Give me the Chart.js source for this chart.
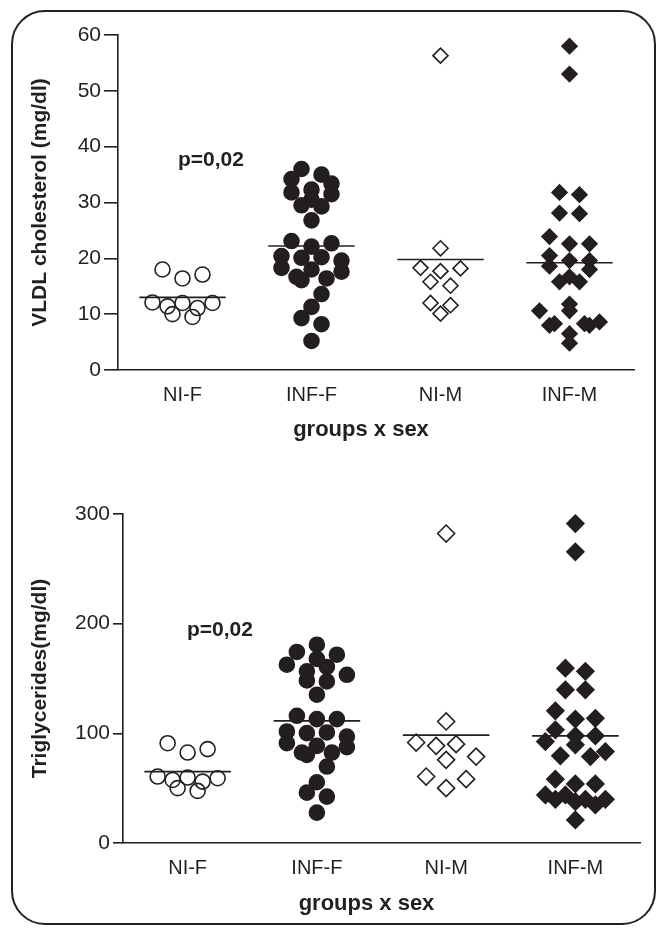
<!DOCTYPE html>
<html>
<head>
<meta charset="utf-8">
<script src="https://cdn.jsdelivr.net/npm/chart.js@4.4.0/dist/chart.umd.min.js"></script>
<style>
  body { margin: 0; background: #fff; }
  #frame { position: absolute; left: 11px; top: 10px; width: 645px; height: 915px;
           border: 2px solid #222; border-radius: 34px; box-sizing: border-box; }
  .box { position: absolute; left: 0; width: 659px; }
  #top { top: 0; height: 445px; }
  #bottom { top: 445px; height: 485px; }
</style>
</head>
<body>
<div id="frame"></div>
<div class="box" id="top"><canvas id="vldlChart"></canvas></div>
<div class="box" id="bottom"><canvas id="tgChart"></canvas></div>
<script>
const GROUPS = ['NI-F', 'INF-F', 'NI-M', 'INF-M'];

// VLDL cholesterol (mg/dl)
const vldlNIF = [17.1, 16.4, 18.0, 12.1, 11.1, 12.0, 9.5, 11.4, 10.0, 12.0];
const vldlINFF = [36.0, 35.0, 34.2, 33.4, 31.8, 32.3, 31.5, 30.5, 29.3, 29.5, 26.8, 23.1, 22.1, 22.7, 20.4,
  20.1, 19.6, 20.2, 18.3, 17.6, 18.0, 16.4, 16.7, 16.1, 13.6, 11.3, 9.3, 8.2, 5.2];
const vldlNIM = [56.3, 21.8, 18.2, 18.3, 17.7, 15.8, 15.1, 12.0, 11.6, 10.1];
const vldlINFM = [58.0, 53.0, 31.4, 31.8, 28.0, 28.1, 23.9, 22.6, 22.6, 20.5, 19.6, 18.6, 19.6, 18.0,
  15.8, 15.8, 16.7, 11.8, 10.6, 10.6, 8.3, 8.6, 8.0, 8.3, 8.0, 6.5, 4.8];
const vldlMeans = [13.0, 22.2, 19.8, 19.2];
const vldlTicks = [0, 10, 20, 30, 40, 50, 60];

// Triglycerides (mg/dl)
const tgNIF = [85.6, 82.5, 91.0, 60.6, 56.0, 59.7, 47.5, 57.5, 50.0, 59.1];
const tgINFF = [180.8, 171.7, 174.2, 167.8, 162.6, 160.5, 156.5, 153.4, 147.3, 148.2, 135.2, 116.0, 113.0,
  113.0, 101.7, 100.2, 97.1, 100.8, 91.0, 87.4, 88.6, 82.5, 82.5, 80.4, 69.7, 55.4, 45.9, 42.3, 27.7];
const tgNIM = [282.2, 110.8, 90.1, 91.6, 88.6, 78.8, 75.8, 60.6, 58.2, 50.0];
const tgINFM = [291.3, 265.5, 156.5, 159.4, 139.7, 139.7, 120.5, 113.0, 113.7, 103.2, 97.7, 97.7, 92.5,
  89.5, 83.4, 78.8, 79.5, 53.9, 53.9, 58.2, 43.8, 39.8, 39.8, 43.8, 39.8, 37.7, 34.7, 21.0];
const tgMeans = [65.1, 111.4, 98.4, 97.7];
const tgTicks = [0, 100, 200, 300];

const INK = '#231f20';
const FONT = 'Arial, "Liberation Sans", sans-serif';
Chart.defaults.font.family = FONT;
Chart.defaults.color = INK;

// p-value note (data units) and the x axis title, which sits a bit left of the axis centre
const figureText = {
  id: 'figureText',
  afterDatasetsDraw(chart, args, opts) {
    const { ctx, chartArea, scales: { x, y } } = chart;
    ctx.save();
    ctx.fillStyle = INK;
    ctx.textAlign = 'center';
    ctx.textBaseline = 'middle';
    ctx.font = 'bold 21px ' + FONT;
    ctx.fillText(opts.note, x.getPixelForValue(opts.noteX), y.getPixelForValue(opts.noteY));
    ctx.font = 'bold 22px ' + FONT;
    ctx.fillText(opts.xTitle, (chartArea.left + chartArea.right) / 2 - 15, x.bottom - 15);
    ctx.restore();
  }
};

const markers = [
  { pointStyle: 'circle', fill: 'rgba(0,0,0,0)' },
  { pointStyle: 'circle', fill: INK },
  { pointStyle: 'rectRot', fill: 'rgba(0,0,0,0)' },
  { pointStyle: 'rectRot', fill: INK },
];

function makeChart(id, values, means, ticks, c) {
  const datasets = values.map((vals, g) => ({
    type: 'scatter',
    data: vals.map(v => ({ x: g, y: v, g: g })),
    pointStyle: markers[g].pointStyle,
    backgroundColor: markers[g].fill,
    borderColor: INK,
    borderWidth: 1.6,
    pointRadius: c.radius[g],
    pointHoverRadius: c.radius[g],
    swarm: true,
    clip: false,
    order: 1
  }));
  means.forEach((m, g) => datasets.push({
    type: 'line',
    data: [{ x: g - 0.335, y: m }, { x: g + 0.335, y: m }],
    borderColor: INK,
    borderWidth: 1.6,
    pointRadius: 0,
    order: 0
  }));

  return new Chart(document.getElementById(id), {
    data: { datasets },
    options: {
      animation: false,
      responsive: true,
      maintainAspectRatio: false,
      layout: { padding: c.padding },
      scales: {
        x: {
          type: 'linear',
          min: -0.5,
          max: 3.5,
          afterBuildTicks: s => { s.ticks = GROUPS.map((g, i) => ({ value: i })); },
          afterFit: s => { s.height = c.xHeight; },
          ticks: { callback: v => GROUPS[v], font: { size: 20 }, padding: 13 },
          grid: { display: false, drawTicks: false },
          border: { color: INK, width: 1.6 }
        },
        y: {
          min: ticks[0],
          max: ticks[ticks.length - 1],
          afterBuildTicks: s => { s.ticks = ticks.map(v => ({ value: v })); },
          afterFit: s => { s.width = c.yWidth; },
          ticks: { font: { size: 21 }, padding: 3 },
          grid: { drawOnChartArea: false, tickLength: c.tickLength, color: INK, lineWidth: 1.6 },
          border: { color: INK, width: 1.6 },
          title: { display: true, text: c.yTitle, font: { size: 21, weight: 'bold' }, padding: { top: 3 } }
        }
      },
      plugins: {
        legend: { display: false },
        tooltip: { enabled: false },
        figureText: c.text
      }
    },
    plugins: [figureText]
  });
}

// Prism-like column scatter: points are binned into rows one marker high,
// each row is spread symmetrically round the group centre (at most 30px each side)
function swarm(chart) {
  const { x, y } = chart.scales;
  const unit = x.getPixelForValue(1) - x.getPixelForValue(0);
  chart.data.datasets.forEach(ds => {
    if (!ds.swarm) return;
    const r = ds.pointRadius, h = 2 * r, half = 30;
    const rows = {};
    ds.data.forEach(p => {
      const k = Math.floor((y.bottom - y.getPixelForValue(p.y)) / h);
      (rows[k] = rows[k] || []).push(p);
    });
    Object.values(rows).forEach(row => {
      const n = row.length;
      const gap = n > 1 ? Math.min(20, 2 * half / (n - 1)) : 0;
      const slots = row.map((_, i) => (i - (n - 1) / 2) * gap);
      const idx = [...slots.keys()];
      const order = idx.filter(i => i % 2 === 0).concat(idx.filter(i => i % 2 === 1));
      row.sort((a, b) => b.y - a.y).forEach((p, j) => { p.x = p.g + slots[order[j]] / unit; });
    });
  });
  chart.update('none');
}

const vldlChart = makeChart('vldlChart', [vldlNIF, vldlINFF, vldlNIM, vldlINFM], vldlMeans, vldlTicks, {
  radius: [7.5, 7.5, 7.5, 7.5],
  padding: { left: 25, top: 35, right: 25, bottom: 0 },
  yWidth: 93,
  xHeight: 75,
  tickLength: 14,
  yTitle: 'VLDL cholesterol (mg/dl)',
  text: { note: 'p=0,02', noteX: 0.22, noteY: 37.5, xTitle: 'groups x sex' }
});

const tgChart = makeChart('tgChart', [tgNIF, tgINFF, tgNIM, tgINFM], tgMeans, tgTicks, {
  radius: [7.5, 7.5, 8.5, 8.5],
  padding: { left: 25, top: 69, right: 19, bottom: 11 },
  yWidth: 98,
  xHeight: 76,
  tickLength: 10,
  yTitle: 'Triglycerides(mg/dl)',
  text: { note: 'p=0,02', noteX: 0.25, noteY: 194, xTitle: 'groups x sex' }
});

swarm(vldlChart);
swarm(tgChart);
</script>
</body>
</html>
